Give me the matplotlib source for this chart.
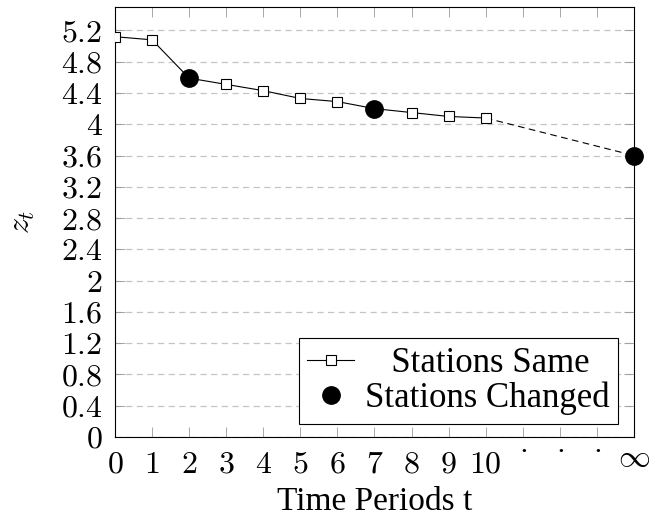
import matplotlib.pyplot as plt
from matplotlib.transforms import ScaledTranslation

plt.rcParams['mathtext.fontset'] = 'cm'
plt.rcParams['font.family'] = 'Liberation Serif'

# valores de z_t por periodo
periodos = [0, 1, 2, 3, 4, 5, 6, 7, 8, 9, 10]
z_mesmas = [5.12, 5.08, 4.59, 4.51, 4.43, 4.33, 4.29, 4.20, 4.15, 4.10, 4.08]

# periodos em que as estacoes mudaram (14 = infinito no eixo)
t_mudou = [2, 7, 14]
z_mudou = [4.59, 4.20, 3.60]

# trecho tracejado ate o infinito
t_inf = [10, 14]
z_inf = [4.08, 3.60]

x_ticks = list(range(15))
x_labels = ['$%d$' % i for i in range(11)] + [r'$\cdot$'] * 3 + [r'$\infty$']
y_ticks = [round(0.4 * i, 1) for i in range(14)]
y_labels = ['$%g$' % v for v in y_ticks]

fig = plt.figure(figsize=(6.49, 5.18), dpi=100)
ax = fig.add_axes([115 / 649, 81 / 518, 519 / 649, 430 / 518])

ax.plot(periodos, z_mesmas, color='black', lw=0.8, marker='s', ms=7.5,
        mfc='white', mec='black', mew=0.8, label='Stations Same', zorder=3)
ax.plot(t_inf, z_inf, color='black', lw=0.8, ls=(0, (6, 4)), zorder=2)
ax.plot(t_mudou, z_mudou, ls='none', marker='o', ms=12.5, color='black',
        label='Stations Changed', zorder=4, clip_on=False)

ax.set_xlim(0, 14)
ax.set_ylim(0, 5.5)
ax.tick_params(direction='in', top=True, right=True, length=7, width=0.6,
               color='#999999', labelsize=23)
ax.tick_params(axis='x', pad=10)
ax.tick_params(axis='y', pad=9)
ax.set_xticks(x_ticks)
ax.set_xticklabels(x_labels)
ax.set_yticks(y_ticks)
ax.set_yticklabels(y_labels)

# sobe os rotulos que nao sao digitos
xlabs = ax.get_xticklabels()
for lab in xlabs[11:14]:
    lab.set_transform(lab.get_transform() + ScaledTranslation(0, 12 / 72, fig.dpi_scale_trans))
xlabs[14].set_transform(xlabs[14].get_transform() + ScaledTranslation(0, 5 / 72, fig.dpi_scale_trans))

ax.yaxis.grid(True, ls=(0, (5, 3.5)), color='#c4c4c4', lw=0.9)
ax.set_axisbelow(True)
for s in ax.spines.values():
    s.set_linewidth(0.8)

ax.set_xlabel('Time Periods t', fontsize=24, labelpad=5)
ax.set_ylabel('$z_t$', fontsize=23, labelpad=17)

leg = ax.legend(loc='lower right', bbox_to_anchor=(503 / 519, 13 / 430), fontsize=25,
                frameon=True, fancybox=False, edgecolor='black', framealpha=1,
                handlelength=1.35, handletextpad=0.3, borderpad=0.25, labelspacing=0.05,
                borderaxespad=0)
leg.get_frame().set_linewidth(0.8)
# centraliza o rotulo mais curto
leg.get_texts()[0].set_text('   Stations Same')

fig.savefig('out.png', dpi=100)
